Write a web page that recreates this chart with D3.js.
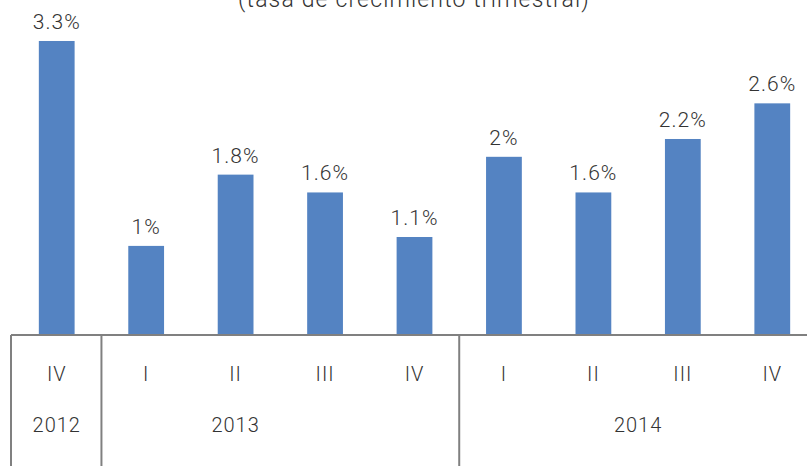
<!DOCTYPE html>
<html>
<head>
<meta charset="utf-8">
<script src="https://cdn.jsdelivr.net/npm/d3@7/dist/d3.min.js"></script>
<style>
  html, body { margin: 0; padding: 0; background: #fff; overflow: hidden; }
  svg { display: block; }
  text { font-family: "Helvetica Neue", Roboto, "Liberation Sans", Arial, sans-serif; font-weight: 300; fill: #333; letter-spacing: 0.05em; }
</style>
</head>
<body>
<svg id="chart" width="807" height="466"></svg>
<script>
// Quarterly growth rate, by quarter and year
const quarters = ["IV", "I", "II", "III", "IV", "I", "II", "III", "IV"];
const years    = ["2012", "2013", "2013", "2013", "2013", "2014", "2014", "2014", "2014"];
const growth   = [3.3, 1, 1.8, 1.6, 1.1, 2, 1.6, 2.2, 2.6];
const title    = "(tasa de crecimiento trimestral)";

const W = 807, H = 466;
const baseY = 335;
const svg = d3.select("#chart");

const keys = quarters.map((q, i) => i);
const x = d3.scaleBand().domain(keys).range([12, 817]).paddingInner(0.6).paddingOuter(0.3);
const y = d3.scaleLinear().domain([0, 3.76]).range([baseY, 0]);

// title (partly above the top edge)
svg.append("text")
  .attr("x", 414).attr("y", 7)
  .attr("text-anchor", "middle")
  .style("font-size", "23px")
  .text(title);

// bars
svg.append("g").selectAll("rect")
  .data(growth)
  .join("rect")
  .attr("x", (d, i) => x(i))
  .attr("width", x.bandwidth())
  .attr("y", d => y(d))
  .attr("height", d => baseY - y(d))
  .attr("fill", "#5483c2");

// value labels
svg.append("g").selectAll("text")
  .data(growth)
  .join("text")
  .attr("x", (d, i) => x(i) + x.bandwidth() / 2)
  .attr("y", d => y(d) - 12)
  .attr("text-anchor", "middle")
  .style("font-size", "21px")
  .text(d => d + "%");

// category axis: baseline + quarter labels
const step = x.step();
const slotLeft = i => x(i) + x.bandwidth() / 2 - step / 2;
const slotRight = i => x(i) + x.bandwidth() / 2 + step / 2;

const axisG = svg.append("g");
axisG.append("line")
  .attr("x1", slotLeft(0) - 1).attr("x2", W)
  .attr("y1", baseY).attr("y2", baseY)
  .attr("stroke", "#808080").attr("stroke-width", 2);

axisG.selectAll("text.q")
  .data(quarters)
  .join("text")
  .attr("class", "q")
  .attr("x", (d, i) => x(i) + x.bandwidth() / 2)
  .attr("y", 381)
  .attr("text-anchor", "middle")
  .style("font-size", "20px")
  .text(d => d);

// year groups
const groups = d3.groups(keys, i => years[i]).map(([yr, idx]) => ({
  year: yr, first: idx[0], last: idx[idx.length - 1]
}));

// group separators: left edge of each group
axisG.selectAll("line.sep")
  .data(groups)
  .join("line")
  .attr("class", "sep")
  .attr("x1", g => slotLeft(g.first) - (g.first === 0 ? 1 : 0))
  .attr("x2", g => slotLeft(g.first) - (g.first === 0 ? 1 : 0))
  .attr("y1", baseY).attr("y2", H)
  .attr("stroke", "#808080").attr("stroke-width", 2);

// year labels; the middle year sits under its second quarter
const yearX = g => g.year === "2013"
  ? x(g.first + 1) + x.bandwidth() / 2
  : (slotLeft(g.first) + slotRight(g.last)) / 2;

axisG.selectAll("text.yr")
  .data(groups)
  .join("text")
  .attr("class", "yr")
  .attr("x", yearX)
  .attr("y", 432)
  .attr("text-anchor", "middle")
  .style("font-size", "20px")
  .text(g => g.year);
</script>
</body>
</html>
